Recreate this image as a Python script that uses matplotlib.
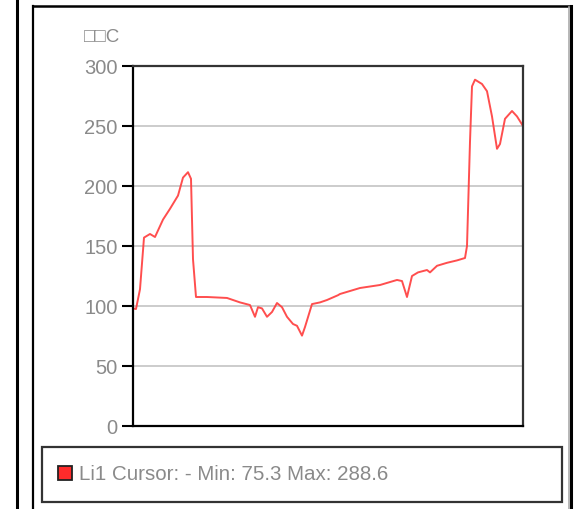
import matplotlib
matplotlib.use("Agg")
import matplotlib.pyplot as plt
from matplotlib.patches import Rectangle
from matplotlib.lines import Line2D

# ---- data ----
x_pos = [0, 3, 7, 11, 17, 22, 30, 37, 45, 50, 55, 58, 60, 63, 74, 94, 107, 117,
         122, 125, 129, 134, 139, 144, 149, 154, 160, 164, 169, 172, 179, 187,
         194, 205, 207, 227, 247, 264, 269, 274, 279, 285, 294, 297, 304, 314,
         324, 332, 334, 337, 339, 342, 349, 354, 359, 364, 367, 372, 379, 384, 390]
values = [98, 97.5, 114, 157, 160, 157.5, 172, 181, 192, 207, 211.5, 206, 139,
          107.5, 107.5, 106.7, 103, 100.8, 91, 99, 98, 91, 95, 102.5, 99, 91,
          85, 83.5, 75.3, 82.5, 101.6, 103, 105, 109, 110, 115, 117.5, 121.7,
          120.8, 107.5, 125, 128, 130, 128, 133.5, 136, 138, 140, 150, 237, 283,
          288.6, 285, 279, 258, 231, 235, 256, 262.5, 258, 250]
y_ticks = [0, 50, 100, 150, 200, 250, 300]
unit_label = "□□C"
legend_text = "Li1 Cursor: - Min: 75.3 Max: 288.6"

W, H = 576, 510
fig = plt.figure(figsize=(W / 100, H / 100), dpi=100)
plt.rcParams['font.family'] = ['Liberation Sans', 'DejaVu Sans']

def fx(px):
    return px / W

def fy(py):
    return 1 - py / H

# outer decorations
fig.add_artist(Line2D([fx(17), fx(17)], [0, 1], color='black', lw=2.2, transform=fig.transFigure))
fig.add_artist(Line2D([fx(33), fx(33)], [0, fy(6.5)], color='black', lw=1.6, transform=fig.transFigure))
fig.add_artist(Line2D([fx(33), fx(571)], [fy(6.5), fy(6.5)], color='black', lw=1.8, transform=fig.transFigure))
fig.add_artist(Line2D([fx(571), fx(571)], [0, fy(6.5)], color='black', lw=2.2, transform=fig.transFigure))
fig.add_artist(Line2D([fx(568.5), fx(568.5)], [0, fy(8)], color='#aaaaaa', lw=1.2, transform=fig.transFigure))

# plot area
left, right, top, bottom = 133, 523, 67, 427
ax = fig.add_axes([fx(left), fy(bottom), fx(right - left), (bottom - top) / H])
ax.plot(x_pos, values, color='#ff3b3b', lw=1.4, alpha=0.9, solid_joinstyle='round')
ax.set_xlim(0, 390)
ax.set_ylim(0, 300)
ax.set_yticks(y_ticks)
ax.set_xticks([])
for t in y_ticks[1:-1]:
    ax.axhline(t, color='#c4c4c4', lw=1.2, zorder=0)
ax.tick_params(axis='y', length=8, width=1.5, color='black', labelcolor='#8a8a8a',
               labelsize=14.5, pad=3)
for s in ['left', 'bottom']:
    ax.spines[s].set_color('black')
    ax.spines[s].set_linewidth(1.6)
for s in ['top', 'right']:
    ax.spines[s].set_color('#333333')
    ax.spines[s].set_linewidth(1.6)

fig.text(fx(84), fy(38), unit_label, color='#8a8a8a', fontsize=13.5,
         ha='left', va='center')

# legend box
fig.add_artist(Rectangle((fx(42), fy(503)), fx(562 - 42), (503 - 448) / H,
                         fill=False, edgecolor='#333333', lw=1.6, transform=fig.transFigure))
fig.add_artist(Rectangle((fx(58), fy(481)), fx(14), 14 / H, facecolor='#ff2b2b',
                         edgecolor='#222222', lw=1.3, transform=fig.transFigure))
fig.text(fx(79), fy(475), legend_text, color='#8a8a8a', fontsize=14.8,
         ha='left', va='center')

fig.savefig('out.png', dpi=100, facecolor='white')
